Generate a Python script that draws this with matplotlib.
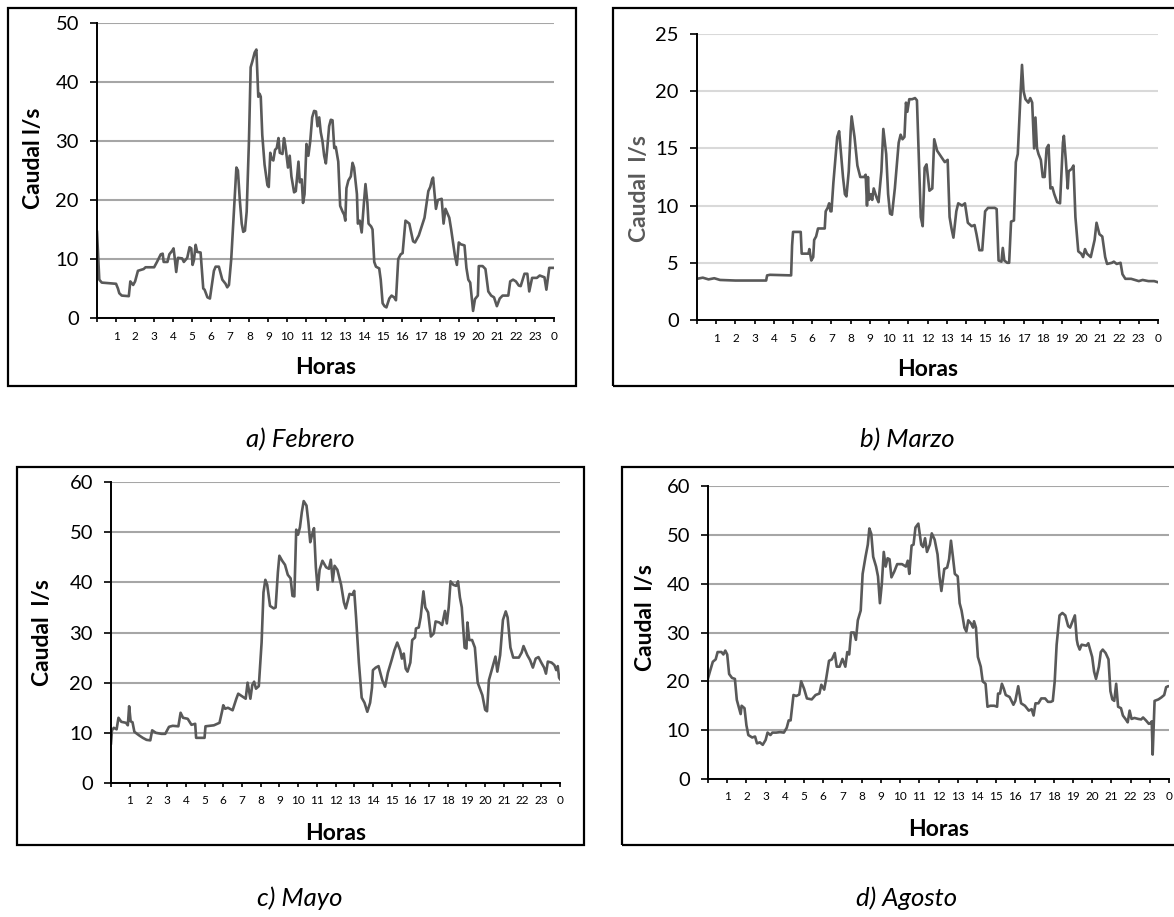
import matplotlib
matplotlib.use("Agg")
import matplotlib.pyplot as plt
from matplotlib.patches import Rectangle

plt.rcParams['font.family'] = ['Lato', 'DejaVu Sans']

# ---- data (hour of day, flow l/s) ----
feb_h = [0, 0.12, 0.25, 1.0, 1.1, 1.17, 1.3, 1.67, 1.75, 1.9, 2.0, 2.15, 2.45, 2.55, 3.0, 3.15, 3.35, 3.45,
         3.5, 3.7, 3.8, 3.95, 4.02, 4.07, 4.16, 4.25, 4.47, 4.56, 4.74, 4.86, 4.95, 5.02, 5.09, 5.18, 5.26,
         5.44, 5.58, 5.65, 5.8, 5.93, 6.14, 6.23, 6.4, 6.58, 6.75, 6.84, 6.93, 7.05, 7.19, 7.32, 7.4, 7.5,
         7.6, 7.68, 7.77, 7.86, 7.98, 8.07, 8.16, 8.28, 8.37, 8.47, 8.54, 8.6, 8.68, 8.8, 8.95, 9.02, 9.1,
         9.16, 9.26, 9.35, 9.44, 9.53, 9.6, 9.74, 9.82, 9.9, 10.03, 10.12, 10.21, 10.35, 10.44, 10.58, 10.65,
         10.75, 10.82, 10.9, 11.0, 11.1, 11.2, 11.3, 11.4, 11.5, 11.58, 11.67, 11.75, 11.84, 11.93, 12.02,
         12.1, 12.19, 12.28, 12.37, 12.46, 12.54, 12.67, 12.77, 12.9, 12.98, 13.04, 13.1, 13.2, 13.33, 13.42,
         13.5, 13.65, 13.7, 13.8, 13.9, 14.03, 14.1, 14.2, 14.26, 14.4, 14.47, 14.56, 14.65, 14.82, 14.9,
         15.0, 15.1, 15.2, 15.35, 15.47, 15.6, 15.7, 15.82, 15.95, 16.05, 16.2, 16.4, 16.6, 16.7, 16.9, 17.0,
         17.2, 17.4, 17.5, 17.6, 17.65, 17.8, 17.9, 18.1, 18.2, 18.3, 18.5, 18.6, 18.8, 18.9, 19.0, 19.1,
         19.3, 19.4, 19.5, 19.6, 19.75, 19.85, 20.0, 20.05, 20.25, 20.4, 20.55, 20.7, 20.85, 21.0, 21.15,
         21.3, 21.6, 21.7, 21.85, 22.0, 22.15, 22.25, 22.45, 22.6, 22.7, 22.85, 23.1, 23.25, 23.5, 23.6,
         23.75, 24.0]
feb_q = [14.6, 6.5, 6.0, 5.8, 5.0, 4.2, 3.8, 3.7, 6.2, 5.6, 6.2, 8.0, 8.3, 8.6, 8.6, 9.5, 10.8, 10.9,
         9.5, 9.5, 10.8, 11.4, 11.8, 10.5, 7.8, 10.2, 10.1, 9.5, 10.2, 12.0, 11.8, 9.0, 9.8, 12.4, 11.2,
         11.1, 5.0, 4.8, 3.5, 3.3, 8.0, 8.7, 8.7, 6.5, 5.8, 5.2, 5.6, 10.0, 18.0, 25.5, 25.0, 20.0,
         16.0, 14.6, 14.8, 18.0, 30.0, 42.5, 43.5, 45.0, 45.5, 37.5, 38.0, 37.5, 31.0, 26.0, 22.5, 22.2, 28.0,
         27.0, 26.7, 28.5, 28.8, 30.5, 28.0, 27.8, 30.5, 29.0, 25.5, 27.5, 24.0, 21.3, 21.5, 26.5, 23.0,
         23.5, 19.5, 21.0, 29.5, 27.5, 30.0, 34.0, 35.1, 35.0, 32.5, 34.0, 31.5, 30.0, 27.5, 26.2,
         29.0, 32.5, 33.6, 33.5, 28.8, 29.0, 26.5, 19.0, 18.0, 17.5, 16.5, 22.0, 23.3, 24.0, 26.3,
         25.5, 21.0, 16.0, 16.5, 14.5, 20.0, 22.7, 19.5, 16.0, 15.5, 15.0, 9.5, 8.7, 8.4, 6.5,
         2.5, 2.0, 1.8, 3.3, 3.8, 3.5, 3.0, 10.0, 10.8, 11.0, 16.5, 16.0, 13.0, 12.8, 14.0, 15.0,
         17.0, 21.5, 22.2, 23.5, 23.8, 18.5, 20.0, 20.2, 16.0, 18.5, 17.0, 15.0, 10.5, 9.0, 12.8, 12.5,
         12.3, 8.5, 6.5, 6.0, 1.2, 3.2, 3.8, 8.8, 8.8, 8.3, 4.5, 3.8, 3.5, 2.0, 3.3,
         3.8, 3.8, 6.2, 6.5, 6.2, 5.5, 5.4, 7.5, 7.5, 4.5, 6.8, 6.8, 7.2, 6.9, 4.8,
         8.5, 8.5]

mar_h = [0, 0.3, 0.6, 0.9, 1.2, 2.0, 3.0, 3.6, 3.65, 3.8, 4.9, 4.95, 5.0, 5.4, 5.45, 5.8, 5.85, 5.95,
         6.05, 6.1, 6.2, 6.3, 6.65, 6.7, 6.8, 6.88, 6.95, 7.0, 7.1, 7.3, 7.4, 7.5, 7.6, 7.7, 7.78, 7.9,
         8.0, 8.05, 8.2, 8.35, 8.5, 8.7, 8.78, 8.85, 8.9, 8.95, 9.05, 9.12, 9.2, 9.35, 9.45, 9.6, 9.7,
         9.85, 9.95, 10.05, 10.15, 10.3, 10.5, 10.6, 10.7, 10.8, 10.88, 10.95, 11.05, 11.2, 11.35, 11.45,
         11.55, 11.65, 11.75, 11.85, 11.95, 12.1, 12.25, 12.35, 12.5, 12.7, 12.9, 13.05, 13.15, 13.25,
         13.35, 13.5, 13.6, 13.8, 13.95, 14.1, 14.3, 14.45, 14.55, 14.7, 14.85, 15.0, 15.15, 15.5, 15.6,
         15.7, 15.85, 15.92, 16.0, 16.15, 16.25, 16.35, 16.5, 16.6, 16.7, 16.85, 16.92, 17.0, 17.1, 17.25,
         17.35, 17.45, 17.55, 17.62, 17.7, 17.78, 17.9, 18.0, 18.1, 18.2, 18.3, 18.4, 18.5, 18.6, 18.75,
         18.9, 19.05, 19.1, 19.2, 19.3, 19.35, 19.5, 19.6, 19.7, 19.85, 20.0, 20.1, 20.2, 20.3, 20.5,
         20.7, 20.8, 20.95, 21.1, 21.25, 21.35, 21.6, 21.7, 21.85, 22.05, 22.15, 22.3, 22.6, 22.8, 23.0,
         23.2, 23.5, 23.8, 24.0]
mar_q = [3.6, 3.7, 3.55, 3.65, 3.5, 3.45, 3.45, 3.45, 3.9, 3.95, 3.9, 6.5, 7.7, 7.7, 5.8, 5.8, 6.2, 5.2,
         5.5, 7.0, 7.3, 8.0, 8.0, 9.5, 9.8, 10.2, 9.5, 9.5, 12.0, 16.0, 16.5, 14.5, 12.5, 11.0, 10.8, 13.0,
         16.5, 17.8, 16.0, 13.5, 12.5, 12.5, 12.7, 10.0, 12.5, 10.5, 11.0, 10.5, 11.5, 10.7, 10.3, 13.0, 16.7,
         14.5, 11.0, 9.3, 9.2, 11.5, 15.5, 16.2, 15.8, 16.0, 19.0, 18.2, 19.3, 19.3, 19.4, 19.2,
         14.0, 9.0, 8.2, 13.3, 13.6, 11.3, 11.5, 15.8, 14.8, 14.3, 13.8, 14.0, 9.0, 8.0,
         7.2, 9.5, 10.2, 10.0, 10.2, 8.5, 8.2, 8.3, 7.5, 6.1, 6.1, 9.5, 9.8, 9.8, 9.7,
         5.2, 5.1, 6.3, 5.2, 5.0, 5.0, 8.6, 8.7, 13.8, 14.5, 20.0, 22.3, 20.0, 19.3, 19.0,
         19.4, 19.0, 15.0, 17.7, 15.0, 14.5, 14.0, 12.5, 12.5, 15.0, 15.3, 11.5, 11.6, 11.0, 10.3,
         10.2, 15.5, 16.1, 14.0, 11.5, 13.0, 13.2, 13.5, 9.0, 6.0, 5.8, 5.5, 6.2, 5.8, 5.5,
         7.0, 8.5, 7.5, 7.3, 5.5, 4.9, 5.0, 5.1, 4.9, 5.0, 4.0, 3.6, 3.6, 3.5, 3.4,
         3.5, 3.4, 3.4, 3.3]

may_h = [0, 0.05, 0.15, 0.3, 0.4, 0.55, 0.8, 0.9, 0.97, 1.05, 1.15, 1.25, 1.5, 1.7, 1.9, 2.1, 2.2, 2.4,
         2.7, 2.9, 3.1, 3.3, 3.6, 3.72, 3.85, 4.1, 4.3, 4.5, 4.55, 5.0, 5.05, 5.5, 5.8, 5.95, 6.0, 6.1,
         6.25, 6.5, 6.7, 6.8, 7.0, 7.2, 7.3, 7.45, 7.55, 7.65, 7.75, 7.9, 8.05, 8.15, 8.25, 8.35, 8.5, 8.7,
         8.8, 8.92, 9.0, 9.15, 9.3, 9.45, 9.6, 9.7, 9.8, 9.9, 10.0, 10.1, 10.2, 10.3, 10.45, 10.55, 10.65,
         10.75, 10.85, 10.95, 11.05, 11.15, 11.3, 11.5, 11.65, 11.75, 11.85, 11.95, 12.1, 12.3, 12.45,
         12.55, 12.75, 12.9, 13.0, 13.1, 13.25, 13.4, 13.55, 13.7, 13.85, 13.95, 14.0, 14.15, 14.3, 14.5,
         14.65, 14.8, 15.0, 15.15, 15.3, 15.45, 15.55, 15.65, 15.75, 15.85, 16.0, 16.1, 16.25, 16.3, 16.45,
         16.55, 16.7, 16.8, 16.95, 17.1, 17.25, 17.35, 17.55, 17.7, 17.85, 17.95, 18.05, 18.15, 18.3, 18.45,
         18.55, 18.65, 18.75, 18.9, 19.0, 19.05, 19.15, 19.3, 19.45, 19.6, 19.7, 19.85, 20.0, 20.1, 20.2,
         20.35, 20.55, 20.65, 20.8, 20.95, 21.1, 21.2, 21.35, 21.5, 21.8, 21.95, 22.05, 22.25, 22.4, 22.55,
         22.7, 22.85, 23.0, 23.15, 23.25, 23.35, 23.55, 23.7, 23.8, 23.88, 23.95, 24.0]
may_q = [7.9, 10.5, 11.0, 10.7, 13.0, 12.2, 12.0, 11.5, 15.3, 12.3, 12.1, 10.2, 9.5, 9.0, 8.6, 8.5, 10.5, 10.0,
         9.8, 9.8, 11.2, 11.4, 11.3, 14.0, 13.0, 12.8, 11.6, 11.8, 9.0, 9.0, 11.3, 11.5, 12.0, 14.5, 15.5, 14.8,
         15.0, 14.5, 16.8, 17.8, 17.3, 16.8, 20.0, 16.8, 19.5, 20.2, 18.8, 19.3, 28.0, 38.0, 40.5, 39.5, 35.3, 34.8,
         35.0, 42.0, 45.3, 44.3, 43.5, 41.5, 40.8, 37.3, 37.2, 50.5, 49.5, 51.0, 54.0, 56.2, 55.3, 52.0, 48.0,
         49.5, 50.8, 43.0, 38.5, 42.5, 44.3, 43.0, 42.7, 44.5, 40.2, 43.3, 42.5, 39.5, 36.0,
         34.8, 37.7, 37.5, 38.3, 33.0, 24.0, 17.0, 16.0, 14.2, 16.0, 19.0, 22.5, 23.0, 23.3, 20.5,
         19.2, 22.0, 24.5, 26.5, 28.0, 26.5, 24.8, 25.8, 22.8, 22.2, 24.0, 28.5, 29.0, 30.8, 31.0,
         33.0, 38.2, 35.0, 34.0, 29.2, 29.8, 32.2, 32.0, 31.5, 34.3, 31.8, 35.0, 40.2, 39.5, 39.3,
         40.2, 37.0, 35.0, 27.0, 26.8, 32.0, 28.5, 28.5, 27.0, 20.0, 19.0, 17.5, 14.6, 14.3, 20.5,
         22.5, 25.2, 22.2, 25.5, 32.5, 34.2, 33.0, 27.0, 25.0, 25.0, 26.0, 27.3, 25.5, 24.5, 23.0,
         24.8, 25.1, 24.0, 23.0, 21.8, 24.2, 24.0, 23.5, 22.5, 23.3, 21.0, 20.7]

ago_h = [0, 0.1, 0.25, 0.4, 0.5, 0.7, 0.8, 0.9, 1.0, 1.1, 1.25, 1.4, 1.5, 1.62, 1.7, 1.75, 1.9, 2.0, 2.1,
         2.3, 2.45, 2.55, 2.7, 2.85, 3.0, 3.1, 3.25, 3.35, 3.55, 3.75, 3.95, 4.1, 4.2, 4.3, 4.45, 4.6, 4.75,
         4.85, 5.0, 5.15, 5.4, 5.6, 5.8, 5.9, 6.05, 6.15, 6.3, 6.45, 6.6, 6.7, 6.85, 7.0, 7.15, 7.25, 7.35,
         7.45, 7.6, 7.7, 7.8, 7.95, 8.05, 8.2, 8.32, 8.4, 8.5, 8.6, 8.75, 8.85, 8.95, 9.05, 9.15, 9.25,
         9.35, 9.45, 9.55, 9.7, 9.85, 10.1, 10.3, 10.4, 10.48, 10.6, 10.7, 10.8, 10.95, 11.1, 11.2, 11.3,
         11.4, 11.55, 11.65, 11.8, 11.95, 12.05, 12.15, 12.3, 12.45, 12.55, 12.65, 12.75, 12.85, 13.0,
         13.1, 13.2, 13.35, 13.45, 13.55, 13.7, 13.8, 13.85, 13.95, 14.05, 14.2, 14.3, 14.45, 14.55, 14.7,
         14.9, 15.05, 15.1, 15.2, 15.3, 15.4, 15.5, 15.7, 15.9, 16.0, 16.1, 16.15, 16.3, 16.5, 16.7, 16.85,
         16.95, 17.05, 17.2, 17.35, 17.55, 17.7, 17.85, 17.95, 18.05, 18.15, 18.3, 18.45, 18.6, 18.75,
         18.85, 19.0, 19.1, 19.2, 19.25, 19.35, 19.45, 19.7, 19.8, 20.0, 20.1, 20.2, 20.35, 20.45, 20.55,
         20.7, 20.85, 20.95, 21.05, 21.15, 21.25, 21.35, 21.5, 21.6, 21.75, 21.85, 21.95, 22.05, 22.2,
         22.4, 22.55, 22.65, 22.8, 22.95, 23.05, 23.1, 23.15, 23.25, 23.45, 23.6, 23.75, 23.85, 23.95, 24.0]
ago_q = [20.6, 22.0, 24.0, 24.5, 26.0, 26.0, 25.5, 26.3, 25.5, 21.5, 20.7, 20.5, 16.2, 14.5, 13.3, 15.0, 14.5, 11.0, 9.0,
         8.5, 8.7, 7.3, 7.5, 7.0, 8.0, 9.5, 9.0, 9.5, 9.5, 9.6, 9.5, 10.5, 12.0, 12.0, 17.2, 17.0, 17.3,
         20.0, 18.5, 16.5, 16.3, 17.2, 17.5, 19.3, 18.3, 20.5, 24.2, 24.5, 25.8, 23.0, 23.0, 24.6, 23.0, 26.0, 25.5,
         30.0, 30.0, 28.5, 32.5, 34.5, 42.0, 45.5, 48.0, 51.3, 50.2, 45.5, 43.5, 41.5, 36.0, 40.0, 46.5, 43.5,
         45.2, 45.0, 41.3, 42.5, 44.0, 44.0, 43.5, 44.7, 42.0, 47.8, 48.0, 51.5, 52.3, 48.0, 47.5, 49.3,
         46.5, 48.0, 50.3, 49.0, 46.0, 41.5, 38.5, 43.0, 43.3, 45.0, 48.8, 45.5, 42.0, 41.5,
         36.0, 34.5, 31.0, 30.2, 32.5, 31.8, 31.0, 32.3, 31.0, 25.0, 23.0, 20.0, 19.5, 14.8, 15.0,
         15.0, 14.8, 17.5, 17.5, 19.5, 18.5, 17.2, 16.8, 15.2, 16.0, 18.0, 19.0, 15.5, 15.0, 14.0, 14.3,
         13.0, 15.5, 15.5, 16.5, 16.5, 15.8, 15.8, 16.0, 20.0, 27.5, 33.5, 34.0, 33.5, 31.3,
         31.0, 32.5, 33.5, 28.5, 27.5, 26.5, 27.5, 27.3, 27.8, 25.0, 22.0, 20.5, 23.0, 26.0, 26.5,
         25.8, 24.5, 18.0, 16.3, 16.0, 19.5, 14.8, 14.5, 13.0, 12.2, 11.6, 14.0, 12.3, 12.5,
         12.3, 12.2, 12.6, 12.0, 11.3, 11.5, 11.8, 5.0, 16.0, 16.3, 16.7, 17.2, 18.8, 19.0, 19.0]

hour_labels = [''] + [str(i) for i in range(1, 24)] + ['0']
captions = ['a) Febrero', 'b) Marzo', 'c) Mayo', 'd) Agosto']

W, H = 1174, 917
fig = plt.figure(figsize=(W / 100, H / 100), dpi=100)
fig.patch.set_facecolor('white')

def px_axes(l, r, t, b):
    return fig.add_axes([l / W, 1 - b / H, (r - l) / W, (b - t) / H])

def frame(l, t, r, b):
    fig.patches.append(Rectangle((l / W, 1 - b / H), (r - l) / W, (b - t) / H,
                                 transform=fig.transFigure, fill=False,
                                 edgecolor='black', lw=1.6, zorder=0))

# panel settings: data, axes box (px), frame box (px), y limits, y step, grid colour, ylabel, label colour
panels = [
    (feb_h, feb_q, (97, 554, 23, 318), (8, 8, 576, 386), 50, 10, '#a6a6a6', 'Caudal l/s', 'black', (-0.115, 0.54)),
    (mar_h, mar_q, (697, 1158, 34, 320), (613, 8, 1180, 386), 25, 5, '#d9d9d9', 'Caudal  l/s', '#595959', (-0.103, 0.46)),
    (may_h, may_q, (111, 560, 482, 783), (17, 467, 584, 845), 60, 10, '#a6a6a6', 'Caudal  l/s', 'black', (-0.13, 0.5)),
    (ago_h, ago_q, (708, 1169, 486, 779), (622, 467, 1180, 845), 60, 10, '#a6a6a6', 'Caudal  l/s', 'black', (-0.112, 0.55)),
]

for hh, qq, box, fr, ymax, ystep, gcol, ylab, ycol, ypos in panels:
    frame(*fr)
    ax = px_axes(*box)
    ax.plot(hh, qq, color='#595959', lw=1.9, solid_joinstyle='round')
    ax.set_xlim(0, 24)
    ax.set_ylim(0, ymax)
    ax.set_xticks(range(25))
    ax.set_xticklabels(hour_labels, fontsize=8.5)
    ax.set_yticks(range(0, ymax + 1, ystep))
    ax.tick_params(axis='y', labelsize=14.5, direction='out', length=5, width=1.2, pad=8)
    ax.tick_params(axis='x', direction='out', length=3, width=1.2, pad=6)
    for s in ['top', 'right']:
        ax.spines[s].set_visible(False)
    for s in ['left', 'bottom']:
        ax.spines[s].set_linewidth(1.4)
        ax.spines[s].set_zorder(3)
    ax.yaxis.grid(True, color=gcol, lw=1.5)
    ax.set_axisbelow(True)
    ax.set_ylabel(ylab, fontsize=16.5, fontweight='bold', color=ycol)
    ax.yaxis.set_label_coords(*ypos)
    ax.set_xlabel('Horas', fontsize=16.5, fontweight='bold', va='center')
    ax.xaxis.set_label_coords(0.5, -50 / (box[3] - box[2]))

cap_pos = [(300, 440), (907, 440), (300, 898), (907, 898)]
for txt, (cx, cy) in zip(captions, cap_pos):
    fig.text(cx / W, 1 - cy / H, txt, fontsize=18.5, style='italic', ha='center', va='center')

fig.savefig('out.png', dpi=100)
